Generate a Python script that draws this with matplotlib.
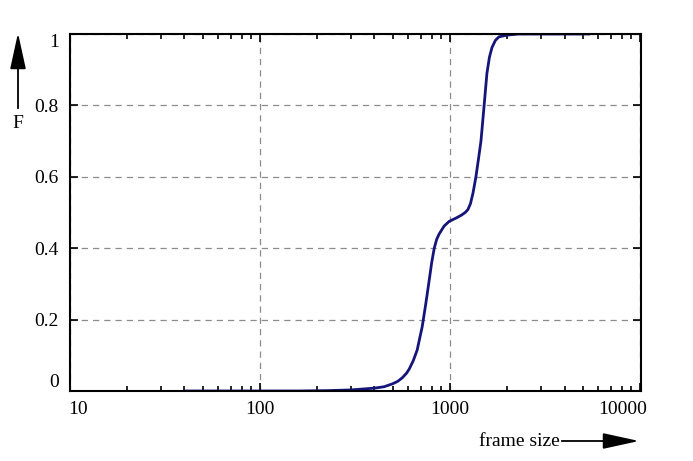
import numpy as np
import matplotlib.pyplot as plt
from matplotlib.ticker import FixedLocator, LogLocator, NullFormatter
import matplotlib.transforms as mtransforms

# frame size (bytes) and cumulative fraction F
size = [40, 100, 160, 225, 300, 400, 450, 497, 530, 560, 590, 610, 640, 671,
        713, 745, 776, 800, 825, 850, 876, 930, 988, 1080, 1150, 1200, 1240,
        1280, 1320, 1367, 1410, 1453, 1507, 1562, 1610, 1660, 1730, 1806, 2000,
        2296, 3000, 4000, 5350]
F = [0.0, 0.0, 0.0, 0.001, 0.003, 0.008, 0.012, 0.02, 0.027, 0.037, 0.05,
     0.062, 0.085, 0.115, 0.18, 0.245, 0.31, 0.36, 0.40, 0.425, 0.44, 0.462,
     0.475, 0.485, 0.493, 0.50, 0.508, 0.525, 0.555, 0.60, 0.65, 0.70, 0.795,
     0.89, 0.935, 0.962, 0.982, 0.992, 0.997, 1.0, 1.0, 1.0, 1.0]

xticks = [10, 100, 1000, 10000]
xticklabels = ['10', '100', '1000', '10000']
yticks = [0, 0.2, 0.4, 0.6, 0.8, 1.0]
yticklabels = ['0', '0.2', '0.4', '0.6', '0.8', '1']

plt.rcParams['font.family'] = ['Liberation Serif', 'DejaVu Serif']
plt.rcParams['font.size'] = 14

fig = plt.figure(figsize=(6.93, 4.61), dpi=100)
ax = fig.add_axes([70 / 693, 1 - 391 / 461, 571 / 693, 357 / 461])

ax.plot(size, F, color='#14147a', lw=2.0, solid_joinstyle='round')

ax.set_xscale('log')
ax.set_xlim(10, 10000 * 1.01)
ax.set_ylim(0, 1.0)

ax.xaxis.set_major_locator(FixedLocator(xticks))
ax.set_xticklabels(xticklabels)
ax.xaxis.set_minor_locator(LogLocator(base=10, subs=np.arange(2, 10)))
ax.xaxis.set_minor_formatter(NullFormatter())
ax.set_yticks(yticks)
ax.set_yticklabels(yticklabels)

ax.tick_params(which='both', direction='in', top=True, right=True,
               width=1.2, colors='black')
ax.tick_params(which='major', length=6)
ax.tick_params(which='minor', length=3.5)
ax.tick_params(axis='x', pad=7)
ax.tick_params(axis='y', pad=8)

for s in ax.spines.values():
    s.set_linewidth(1.5)

ax.grid(True, which='major', color='#8c8c8c', linestyle=(0, (5, 4)), lw=0.9)

xl = ax.get_xticklabels()
xl[0].set_ha('left')
xl[0].set_transform(xl[0].get_transform() + mtransforms.ScaledTranslation(-2 / 100, 0, fig.dpi_scale_trans))
xl[-1].set_transform(xl[-1].get_transform() + mtransforms.ScaledTranslation(-18 / 100, 0, fig.dpi_scale_trans))
yl = ax.get_yticklabels()
yl[0].set_va('bottom')
yl[-1].set_va('top')

# axis labels with arrows
arrow = dict(arrowstyle='-|>,head_length=1.6,head_width=0.35',
             color='black', lw=1.3, shrinkA=0, shrinkB=0)
fig.text(18 / 693, 1 - 124 / 461, 'F', ha='center', va='center')
fig.add_artist(plt.Line2D([18 / 693, 18 / 693], [1 - 108 / 461, 1 - 55 / 461],
                          color='black', lw=1.3))
ax.annotate('', xy=(18 / 693, 1 - 33 / 461), xytext=(18 / 693, 1 - 62 / 461),
            xycoords='figure fraction', arrowprops=arrow)
fig.text(560 / 693, 1 - 441 / 461, 'frame size', ha='right', va='center')
fig.add_artist(plt.Line2D([562 / 693, 610 / 693], [1 - 441 / 461, 1 - 441 / 461],
                          color='black', lw=1.3))
ax.annotate('', xy=(639 / 693, 1 - 441 / 461), xytext=(603 / 693, 1 - 441 / 461),
            xycoords='figure fraction', arrowprops=arrow)

fig.savefig('out.png', dpi=100)
